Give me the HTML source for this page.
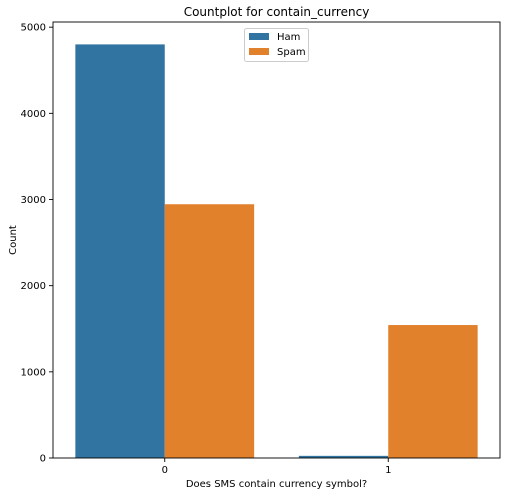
<!DOCTYPE html>
<html><head><meta charset="utf-8"><style>
body{margin:0;background:#fff;font-family:"Liberation Sans","DejaVu Sans",sans-serif;}
svg text{font-family:"DejaVu Sans","Liberation Sans",sans-serif;fill:#000;}
</style></head><body>
<svg id="c" width="506" height="496" xmlns="http://www.w3.org/2000/svg">
<rect width="506" height="496" fill="#fff"/>
<g id="plot"></g>
</svg>
<script>
const categories = ["0","1"];
const seriesNames = ["Ham","Spam"];
const hamValues = [4800, 25];
const spamValues = [2945, 1543];
const yTicks = [0,1000,2000,3000,4000,5000];
const colors = ["#3274a1","#e1812c"];

const L=53,R=500,T=22,B=458;
const yMax=5060;
const y=v=>B-(v/yMax)*(B-T);
const band=(R-L)/categories.length;
const xc=i=>L+band*(i+0.5);
const bw=band*0.4;
const NS="http://www.w3.org/2000/svg";
const g=document.getElementById('plot');
function mk(tag,attrs,parent){const e=document.createElementNS(NS,tag);for(const k in attrs)e.setAttribute(k,attrs[k]);(parent||g).appendChild(e);return e;}

const series=[hamValues,spamValues];
series.forEach((vals,s)=>{
  vals.forEach((v,i)=>{
    const x=xc(i)-bw+s*bw;
    const r=mk('rect',{x:x,y:y(v),width:bw,height:B-y(v),fill:colors[s]});
    
    
  });
});
// axes
const ax=mk('rect',{x:L,y:T,width:R-L,height:B-T,fill:'none',stroke:'#000','stroke-width':0.9});


yTicks.forEach(t=>{
  mk('line',{x1:L-4,x2:L,y1:y(t),y2:y(t),stroke:'#000','stroke-width':0.9});
  const tx=mk('text',{x:L-7,y:y(t)+3.5,'text-anchor':'end','font-size':10});
  tx.textContent=t;
  
  
});
categories.forEach((c,i)=>{
  mk('line',{x1:xc(i),x2:xc(i),y1:B,y2:B+4,stroke:'#000','stroke-width':0.9});
  const tx=mk('text',{x:xc(i),y:B+15,'text-anchor':'middle','font-size':10});
  tx.textContent=c;
  
  
});
const xt=mk('text',{x:(L+R)/2,y:487,'text-anchor':'middle','font-size':10});
xt.textContent='Does SMS contain currency symbol?';


const yt=mk('text',{x:16,y:(T+B)/2,'text-anchor':'middle','font-size':10,transform:'rotate(-90 16 '+((T+B)/2)+')'});
yt.textContent='Count';


const tt=mk('text',{x:(L+R)/2,y:16,'text-anchor':'middle','font-size':12});
tt.textContent='Countplot for contain_currency';


// legend
const lg=mk('g',{});


mk('rect',{x:244.5,y:28.5,width:64,height:33,rx:2,fill:'#fff',stroke:'#ccc'},lg);
seriesNames.forEach((n,s)=>{
  mk('rect',{x:249,y:33+s*15,width:20,height:7,fill:colors[s]},lg);
  const t=mk('text',{x:277,y:40+s*15,'font-size':10},lg);
  t.textContent=n;
  
  
});
</script>
</body></html>
